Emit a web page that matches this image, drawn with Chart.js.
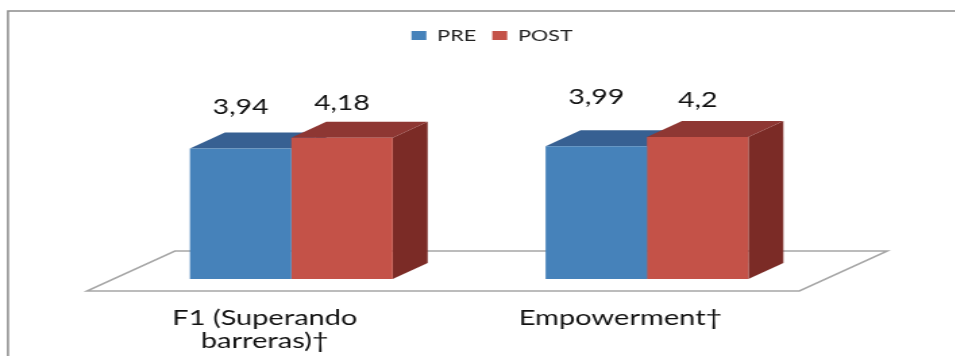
<!DOCTYPE html>
<html>
<head>
<meta charset="utf-8">
<script src="https://cdn.jsdelivr.net/npm/chart.js@4"></script>
<style>
    html, body { margin: 0; padding: 0; background: #fff; overflow: hidden; }
    #wrap { width: 955px; height: 356px; overflow: hidden; }
    /* the chart is drawn narrow and widened as a whole */
    #grafico { transform: scaleX(1.35); transform-origin: 0 0; }
</style>
</head>
<body>
<div id="wrap"><canvas id="grafico" width="729" height="356"></canvas></div>
<script>
var categorias = [["F1 (Superando", "barreras)†"], "Empowerment†"];
var valoresPre = [3.94, 3.99];
var valoresPost = [4.18, 4.2];

var ESTICA = 1.35;
var PROF_X = 35 / ESTICA;
var PROF_Y = 16;

var coresPre = { frente: '#4682ba', topo: '#376092', lado: '#2f5580' };
var coresPost = { frente: '#c45248', topo: '#8e3733', lado: '#7b2b26' };

// distancia de cada rotulo ate o topo da barra
var alturaRotulo = [[41, 49], [35, 37]];

function face(ctx, pontos, cor) {
    ctx.fillStyle = cor;
    ctx.beginPath();
    ctx.moveTo(pontos[0][0], pontos[0][1]);
    for (var i = 1; i < pontos.length; i++) {
        ctx.lineTo(pontos[i][0], pontos[i][1]);
    }
    ctx.closePath();
    ctx.fill();
}

// moldura externa, piso e faces de profundidade das barras
var pluginCaixa = {
    id: 'caixa3d',
    afterLayout: function (chart) {
        // legenda centrada na largura toda, nao so na area das barras
        var legenda = chart.legend;
        var desvio = chart.width / 2 - (legenda.left + legenda.right) / 2;
        legenda.left += desvio;
        legenda.right += desvio;
        legenda.top -= 3.5;
        legenda.bottom -= 3.5;
    },
    beforeDatasetsDraw: function (chart) {
        var ctx = chart.ctx;
        var area = chart.chartArea;

        ctx.save();
        ctx.strokeStyle = '#8c8c8c';
        ctx.lineWidth = 1.5;
        ctx.strokeRect(8 / ESTICA, 11, 1200, 500);

        var frenteY = area.bottom + 12;
        var fundoY = area.bottom - 28;
        var esq = area.left - 26.5 / ESTICA;
        var dir = area.right - 25.5 / ESTICA;
        var recuo = 88 / ESTICA;
        ctx.strokeStyle = '#a6a6a6';
        ctx.beginPath();
        ctx.moveTo(esq, frenteY);
        ctx.lineTo(dir, frenteY);
        ctx.lineTo(dir + recuo, fundoY);
        ctx.lineTo(esq + recuo, fundoY);
        ctx.closePath();
        ctx.stroke();

        var base = area.bottom;
        chart.data.datasets.forEach(function (ds, d) {
            var cores = d === 0 ? coresPre : coresPost;
            chart.getDatasetMeta(d).data.forEach(function (barra) {
                var e = barra.x - barra.width / 2;
                var r = barra.x + barra.width / 2;
                face(ctx, [[r, barra.y], [r + PROF_X, barra.y - PROF_Y], [r + PROF_X, base - PROF_Y], [r, base]], cores.lado);
                face(ctx, [[e, barra.y], [e + PROF_X, barra.y - PROF_Y], [r + PROF_X, barra.y - PROF_Y], [r, barra.y]], cores.topo);
            });
        });
        ctx.restore();
    },
    afterDatasetsDraw: function (chart) {
        var ctx = chart.ctx;
        ctx.save();
        ctx.fillStyle = '#111';
        ctx.font = '21px Lato';
        ctx.textAlign = 'center';
        ctx.textBaseline = 'middle';
        chart.data.datasets.forEach(function (ds, d) {
            chart.getDatasetMeta(d).data.forEach(function (barra, i) {
                var texto = String(ds.data[i]).replace('.', ',');
                ctx.fillText(texto, barra.x, barra.y - alturaRotulo[d][i]);
            });
        });
        ctx.restore();
    }
};

var grafico = new Chart(document.getElementById('grafico').getContext('2d'), {
    type: 'bar',
    data: {
        labels: categorias,
        datasets: [
            { label: 'PRE', data: valoresPre, backgroundColor: coresPre.frente },
            { label: 'POST', data: valoresPost, backgroundColor: coresPost.frente }
        ]
    },
    plugins: [pluginCaixa],
    options: {
        responsive: false,
        animation: false,
        datasets: { bar: { barPercentage: 1, categoryPercentage: 0.57 } },
        layout: { padding: { top: 19, left: 84, right: 118, bottom: 0 } },
        plugins: {
            tooltip: { enabled: false },
            legend: {
                position: 'top',
                labels: {
                    boxWidth: 11,
                    boxHeight: 9,
                    padding: 12,
                    color: '#222',
                    font: { family: 'Lato', size: 16 }
                }
            }
        },
        scales: {
            x: {
                grid: { display: false },
                border: { display: false },
                afterFit: function (eixo) { eixo.height = 77; },
                ticks: {
                    color: '#111',
                    padding: 19,
                    labelOffset: -19.6,
                    maxRotation: 0,
                    autoSkip: false,
                    font: { family: 'Lato', size: 21.5, lineHeight: 1.08 }
                }
            },
            y: { display: false, min: 1, max: 6 }
        }
    }
});
</script>
</body>
</html>
